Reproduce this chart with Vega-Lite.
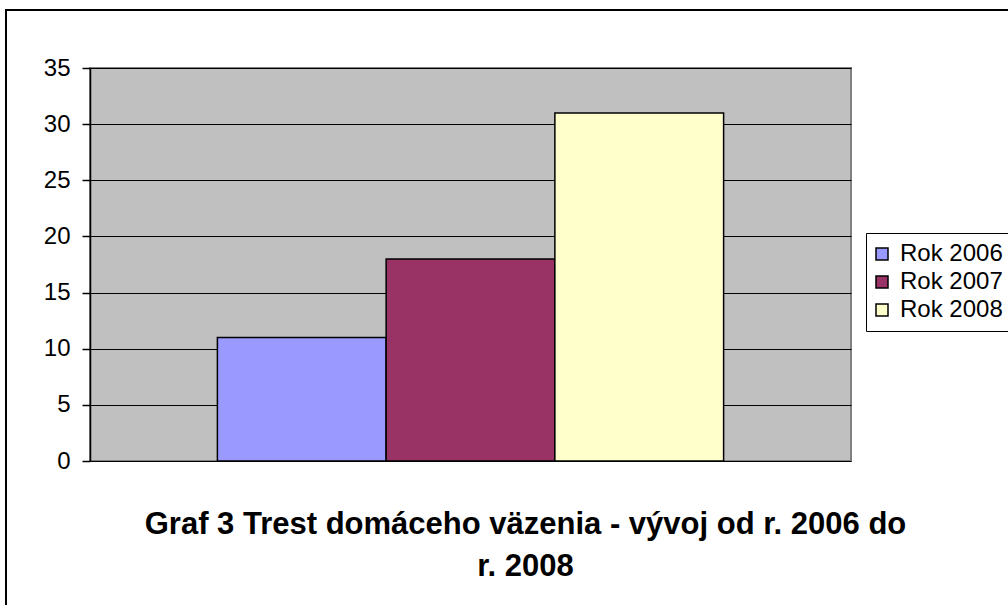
{
  "$schema": "https://vega.github.io/schema/vega-lite/v6.json",
  "width": 761,
  "height": 393,
  "autosize": {"type": "none"},
  "padding": {"left": 90, "top": 68, "right": 157, "bottom": 144},
  "background": "white",
  "config": {
    "view": {"fill": "#C0C0C0", "stroke": "#808080", "strokeWidth": 2},
    "font": "Liberation Sans"
  },
  "title": {
    "text": ["Graf 3 Trest domáceho väzenia - vývoj od r. 2006 do", "r. 2008"],
    "orient": "bottom",
    "anchor": "middle",
    "font": "Liberation Sans",
    "fontSize": 31,
    "fontWeight": "bold",
    "color": "black",
    "lineHeight": 42,
    "offset": -104,
    "dx": 55
  },
  "layer": [
    {
      "data": {"values": [{"frame": 1}]},
      "mark": {"type": "rect", "filled": false, "stroke": "black", "strokeWidth": 2, "clip": false},
      "encoding": {
        "x": {"value": -84},
        "x2": {"value": 1000},
        "y": {"value": -58},
        "y2": {"value": 545}
      }
    },
    {
      "data": {
        "values": [
          {"Rok": "Rok 2006", "value": 11},
          {"Rok": "Rok 2007", "value": 18},
          {"Rok": "Rok 2008", "value": 31}
        ]
      },
      "mark": {"type": "bar", "stroke": "black", "strokeWidth": 1.5},
      "encoding": {
        "x": {
          "field": "Rok",
          "type": "nominal",
          "scale": {"paddingInner": 0, "paddingOuter": 0.755},
          "axis": null
        },
        "y": {
          "field": "value",
          "type": "quantitative",
          "scale": {"domain": [0, 35], "nice": false},
          "axis": {
            "title": null,
            "values": [0, 5, 10, 15, 20, 25, 30, 35],
            "domainColor": "black",
            "domainWidth": 1.5,
            "tickColor": "black",
            "tickSize": 8,
            "tickWidth": 1.5,
            "gridColor": "black",
            "gridWidth": 1,
            "grid": true,
            "labelFont": "Liberation Sans",
            "labelFontSize": 24,
            "labelColor": "black",
            "labelPadding": 12
          }
        },
        "color": {
          "field": "Rok",
          "type": "nominal",
          "scale": {"range": ["#9999FF", "#993366", "#FFFFCC"]},
          "legend": {
            "title": null,
            "orient": "none",
            "legendX": 776,
            "legendY": 165,
            "padding": 9,
            "strokeColor": "black",
            "fillColor": "white",
            "symbolType": "square",
            "symbolSize": 144,
            "symbolOffset": -5,
            "symbolStrokeColor": "black",
            "symbolStrokeWidth": 1.5,
            "symbolOpacity": 1,
            "labelFont": "Liberation Sans",
            "labelFontSize": 24,
            "labelColor": "black",
            "labelOffset": 6,
            "rowPadding": 4,
            "labelLimit": 300
          }
        }
      }
    }
  ]
}
